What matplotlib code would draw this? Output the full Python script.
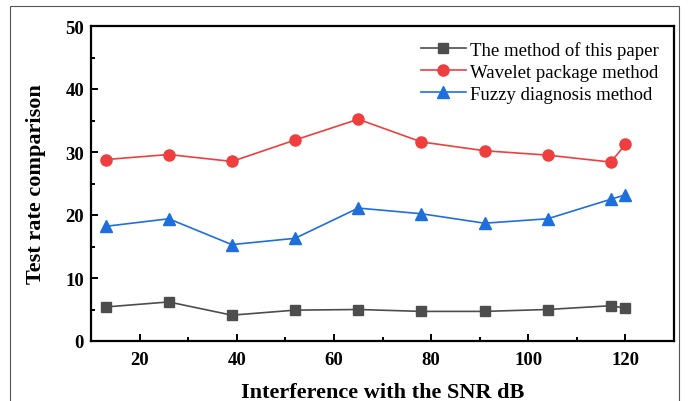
import matplotlib
matplotlib.use('Agg')
from matplotlib import pyplot as plt
from matplotlib.patches import Rectangle
from matplotlib.ticker import MultipleLocator

snr = [13, 26, 39, 52, 65, 78, 91, 104, 117, 120]
this_paper = [5.4, 6.2, 4.1, 4.9, 5.0, 4.7, 4.7, 5.0, 5.6, 5.2]
wavelet = [28.8, 29.6, 28.5, 31.9, 35.2, 31.6, 30.2, 29.5, 28.4, 31.2]
fuzzy = [18.2, 19.4, 15.3, 16.3, 21.1, 20.2, 18.7, 19.4, 22.5, 23.2]

labels = ['The method of this paper', 'Wavelet package method', 'Fuzzy diagnosis method']

plt.rcParams['font.family'] = ['Liberation Serif', 'DejaVu Serif']

fig = plt.figure(figsize=(6.91, 4.02), dpi=100)
ax = fig.add_axes([91 / 691, 1 - 342 / 402, (674 - 91) / 691, (342 - 27) / 402])

# thin frame round the whole figure, open at the bottom
fig.patches.append(Rectangle((10 / 691, -0.05), 669 / 691, 1 - 7 / 402 + 0.05,
                             transform=fig.transFigure, fill=False,
                             edgecolor='#555555', linewidth=0.8))

ax.plot(snr, this_paper, color='#4d4d4d', marker='s', markersize=6.5, linewidth=1.2, label=labels[0])
ax.plot(snr, wavelet, color='#ef3e3e', marker='o', markersize=8, linewidth=1.2, label=labels[1])
ax.plot(snr, fuzzy, color='#1e6fdc', marker='^', markersize=8, linewidth=1.2, label=labels[2])

ax.set_xlim(10, 130)
ax.set_ylim(0, 50)
ax.xaxis.set_major_locator(MultipleLocator(20))
ax.xaxis.set_minor_locator(MultipleLocator(10))
ax.yaxis.set_major_locator(MultipleLocator(10))
ax.yaxis.set_minor_locator(MultipleLocator(5))
ax.set_xticks([20, 40, 60, 80, 100, 120])

for s in ax.spines.values():
    s.set_linewidth(1.6)
ax.tick_params(which='both', direction='in', width=1.4)
ax.tick_params(which='major', length=5)
ax.tick_params(which='minor', length=3)
ax.tick_params(axis='x', pad=7)
ax.tick_params(axis='y', pad=5)
for lab in ax.get_xticklabels() + ax.get_yticklabels():
    lab.set_fontsize(13.5)
    lab.set_fontweight('bold')

ax.set_xlabel('Interference with the SNR dB', fontsize=16, fontweight='bold', labelpad=10)
ax.set_ylabel('Test rate comparison', fontsize=16, fontweight='bold', labelpad=14)

ax.legend(loc='upper right', frameon=False, fontsize=13.5, handlelength=2.4,
          handletextpad=0.25, labelspacing=0.25, borderaxespad=0.4)

fig.savefig('out.png', dpi=100)
